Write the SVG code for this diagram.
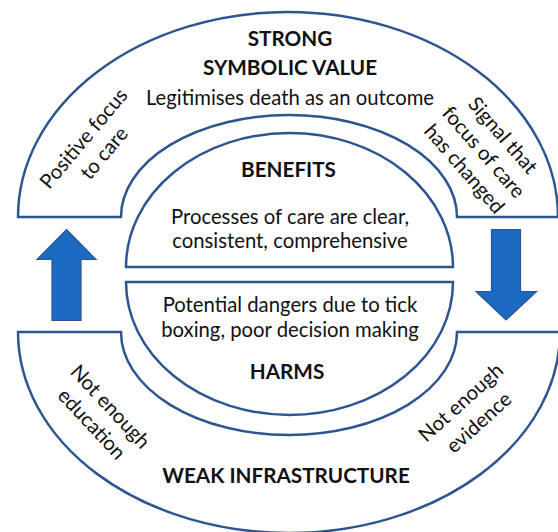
<svg xmlns="http://www.w3.org/2000/svg" width="558" height="532" viewBox="0 0 558 532">
<style>
.band{fill:#fff;stroke:#2E5591;stroke-width:2.5;stroke-linejoin:miter}
.arrow{fill:#1B69C1;stroke:#2E5591;stroke-width:1.2}
text{font-family:Lato,"Liberation Sans",sans-serif;fill:#111;text-anchor:middle}
.b{font-weight:bold;font-size:20.7px}
.r{font-size:20.3px}
</style>
<rect width="558" height="532" fill="#fff"/>
<g id="strong-symbolic-value">
<path class="band" d="M18 217 A270 205 0 0 1 558 217 L457 217 A168 102 0 0 0 121 217 Z"/>
<text class="b" x="290" y="46">STRONG</text>
<text class="b" x="290" y="75">SYMBOLIC VALUE</text>
<text class="r" x="290" y="105">Legitimises death as an outcome</text>
<g transform="translate(89,143) rotate(-50)"><text class="r" x="0" y="0">Positive focus</text><text class="r" x="2" y="25">to care</text></g>
<g transform="translate(497.6,139.9) rotate(49)"><text class="r" x="0" y="0">Signal that</text><text class="r" x="0" y="25.5">focus of care</text><text class="r" x="0" y="51">has changed</text></g>
</g>
<g id="benefits">
<path class="band" d="M126 267 A163.5 134 0 0 1 453 267 Z"/>
<text class="b" x="288.5" y="177">BENEFITS</text>
<text class="r" x="290" y="224">Processes of care are clear,</text>
<text class="r" x="290" y="248">consistent, comprehensive</text>
</g>
<g id="harms">
<path class="band" d="M126 282 A163.5 133 0 0 0 453 282 Z"/>
<text class="r" x="290" y="312">Potential dangers due to tick</text>
<text class="r" x="290" y="336.5">boxing, poor decision making</text>
<text class="b" x="287" y="379">HARMS</text>
</g>
<g id="weak-infrastructure">
<path class="band" d="M18 332 L121 332 A168 103 0 0 0 457 332 L560 332 A271 201 0 0 1 18 332 Z"/>
<text class="b" x="286" y="482.5">WEAK INFRASTRUCTURE</text>
<g transform="translate(105.3,411.3) rotate(47)"><text class="r" x="0" y="0">Not enough</text><text class="r" x="0" y="25.5">education</text></g>
<g transform="translate(465.5,407.6) rotate(-42)"><text class="r" x="0" y="0">Not enough</text><text class="r" x="0" y="27">evidence</text></g>
</g>
<g id="connectors">
<polygon class="arrow" points="66.5,229.5 96,259.5 81,259.5 81,320.5 52,320.5 52,259.5 37,259.5"/>
<polygon class="arrow" points="491.5,229.5 520.5,229.5 520.5,291.5 536.5,291.5 506,320 476,291.5 491.5,291.5"/>
</g>
</svg>
